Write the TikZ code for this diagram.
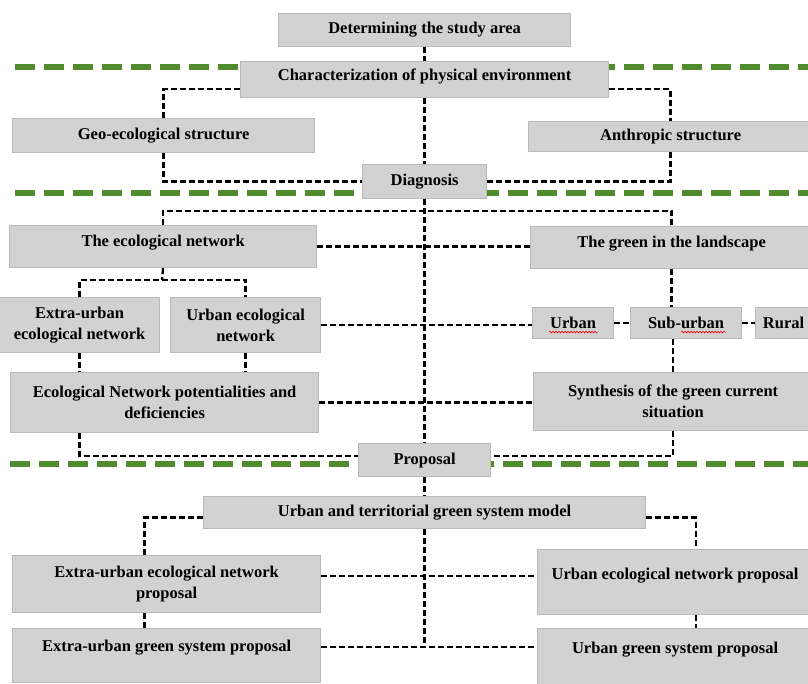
\documentclass[tikz,border=0pt]{standalone}
\usepackage{fontspec}
\setmainfont{Liberation Serif}
\usetikzlibrary{backgrounds,decorations.pathmorphing}
\definecolor{boxfill}{RGB}{210,210,210}
\definecolor{boxline}{RGB}{185,185,185}
\definecolor{bandgreen}{RGB}{80,140,45}

\begin{document}
\begin{tikzpicture}
  [x=1pt,y=-1pt,
   every node/.style={draw=boxline,fill=boxfill,line width=1.2pt,anchor=north west,
     inner sep=0pt,align=center,font=\fontsize{16.5}{21}\selectfont\bfseries},
   raised/.style={text depth=#1},
   link/.style={line width=2.3pt,dash pattern=on 6pt off 3pt},
   band/.style={bandgreen,line width=6.5pt,dash pattern=on 20pt off 9pt},
   squiggle/.style={red,line width=0.6pt,decorate,decoration={snake,amplitude=0.8pt,segment length=3pt}}]
  \useasboundingbox (0,0) rectangle (808,684);
  \clip (0,0) rectangle (808,684);

  % study stage
  \node[minimum width=292,minimum height=33] (study) at (278,13) {Determining the study area};
  \node[minimum width=368,minimum height=36,raised=10pt] (phys) at (240,61) {Characterization of physical environment};
  \node[minimum width=302,minimum height=34] (geo) at (12,118) {Geo-ecological structure};
  \node[minimum width=284,minimum height=30] (anthro) at (528,121) {Anthropic structure};
  \node[minimum width=124,minimum height=34] (diag) at (362,164) {Diagnosis};

  % diagnosis stage
  \node[minimum width=307,minimum height=42,raised=12pt] (econet) at (9,225) {The ecological network};
  \node[minimum width=282,minimum height=42,raised=12pt] (greenland) at (530,226) {The green in the landscape};
  \node[minimum width=160,minimum height=55] (extra) at (-1,297) {Extra-urban\\ecological network};
  \node[minimum width=150,minimum height=55] (urbeco) at (170,297) {Urban ecological\\network};
  \node[minimum width=81,minimum height=31] (urban) at (532,307) {Urban};
  \node[minimum width=111,minimum height=31] (suburb) at (630,307) {Sub-urban};
  \node[minimum width=70,minimum height=31] (rural) at (755,307) {\hspace*{-14pt}Rural};
  \node[minimum width=308,minimum height=60] (pot) at (10,372) {Ecological Network potentialities and\\deficiencies};
  \node[minimum width=279,minimum height=58] (synth) at (533,372) {Synthesis of the green current\\situation};
  \node[minimum width=132,minimum height=33] (proposal) at (358,443) {Proposal};

  % proposal stage
  \node[minimum width=442,minimum height=32] (model) at (203,496) {Urban and territorial green system model};
  \node[minimum width=308,minimum height=57] (extraprop) at (12,555) {Extra-urban ecological network\\proposal};
  \node[minimum width=275,minimum height=65,raised=16pt] (urbprop) at (537,549) {Urban ecological network proposal};
  \node[minimum width=308,minimum height=54,raised=20pt] (extragreen) at (12,628) {Extra-urban green system proposal};
  \node[minimum width=275,minimum height=60,raised=22pt] (urbgreen) at (537,628) {Urban green system proposal};

  \coordinate (dsplit) at (424,211);
  \coordinate (esplit) at (162,280);
  \coordinate (pjoin) at (424,576);
  \coordinate (mjoin) at (424,647);

  % spelling marks
  \draw[squiggle] ([shift={(-24pt,-9pt)}]urban.center) -- ++(49,0);
  \draw[squiggle] ([shift={(-5pt,-9pt)}]suburb.center) -- ++(45,0);

  \begin{scope}[on background layer]
    \draw[band] (15,67) -- (808,67);
    \draw[band] (15,193) -- (808,193);
    \draw[band] (10,464) -- (808,464);

    \foreach \from/\to in {study.south/phys.north,phys.south/diag.north,diag.south/proposal.north,
        proposal.south/model.north,extra.south/pot.north,urbeco.south/pot.north,
        greenland.south/suburb.north,model.south/mjoin}
      \draw[link] (\from) -- (\from |- \to);
    \foreach \from/\to in {econet.east/greenland.west,urbeco.east/urban.west,urban.east/suburb.west,
        suburb.east/rural.west,pot.east/synth.west}
      \draw[link] (\from) -- (\from -| \to);
    \draw[link] ([yshift=9pt]phys.south west) -| (geo.north);
    \draw[link] ([yshift=9pt]phys.south east) -| (anthro.north);
    \draw[link] (geo.south) |- (diag.west);
    \draw[link] (anthro.south) |- (diag.east);
    \draw[link] (econet.north) |- (dsplit) -| (greenland.north);
    \draw[link] (econet.south) -- (esplit);
    \draw[link] (extra.north) |- (esplit) -| (urbeco.north);
    \draw[link] (synth.north |- suburb.south) -- (synth.north);
    \draw[link] (extra.south |- pot.south) |- ([yshift=4pt]proposal.west);
    \draw[link] (synth.south) |- ([yshift=4pt]proposal.east);
    \draw[link] ([yshift=-5pt]model.west) -| ([xshift=-22pt]extraprop.north);
    \draw[link] ([xshift=-22pt]extraprop.south) -- ([xshift=-22pt]extraprop.south |- extragreen.north);
    \draw[link] ([yshift=-5pt]model.east) -| ([xshift=21pt]urbprop.north);
    \draw[link] ([xshift=21pt]urbprop.south) -- ([xshift=21pt]urbprop.south |- urbgreen.north);
    \draw[link] (extraprop.east |- pjoin) -- (pjoin -| urbprop.west);
    \draw[link] (extragreen.east |- mjoin) -- (mjoin -| urbgreen.west);
  \end{scope}
\end{tikzpicture}
\end{document}
